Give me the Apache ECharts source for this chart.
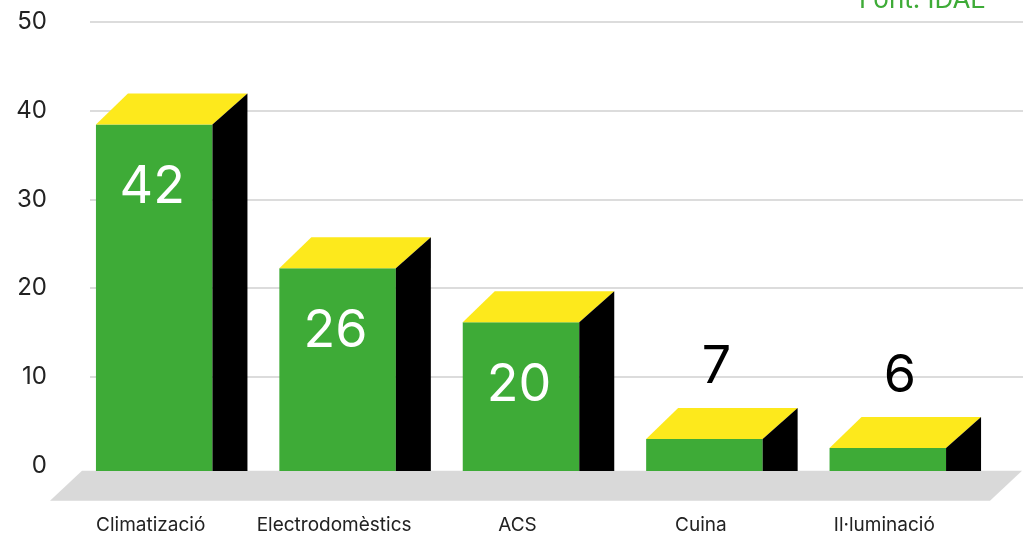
<!DOCTYPE html>
<html>
<head>
<meta charset="utf-8">
<script src="https://cdn.jsdelivr.net/npm/echarts@6/dist/echarts.min.js"></script>
<style>
html,body{margin:0;padding:0;background:#fff;}
#chart{width:1023px;height:536px;}
</style>
</head>
<body>
<div id="chart"></div>
<script>
const categories = ['Climatizació', 'Electrodomèstics', 'ACS', 'Cuina', 'Il·luminació'];
const values = [42, 26, 20, 7, 6];
const yTicks = [0, 10, 20, 30, 40, 50];
const sourceText = 'Font: IDAE';

const GREEN = '#3eab37', YELLOW = '#fde91c', BLACK = '#000000', FLOOR = '#d9d9d9';
const FONT = 'Inter, "Noto Sans", sans-serif';

const chart = echarts.init(document.getElementById('chart'), null, {renderer: 'canvas'});

function renderBar(params, api) {
  const idx = api.value(0);
  const v = api.value(1);
  const top = api.coord([idx, v]);
  const base = api.coord([idx, 0])[1];
  const cx = top[0] + 3.5;
  const w = 116.5;
  const x0 = cx - w / 2, x1 = cx + w / 2;
  const dxL = 32, dxR = 35, dy = 31;
  const backTop = top[1];
  const yf = backTop + dy;
  const inside = (base - yf) > 80;
  return {
    type: 'group',
    children: [
      {type: 'rect', shape: {x: x0, y: yf, width: w, height: base - yf}, style: {fill: GREEN}},
      {type: 'polygon', shape: {points: [[x0, yf], [x1, yf], [x1 + dxR, backTop], [x0 + dxL, backTop]]}, style: {fill: YELLOW}},
      {type: 'polygon', shape: {points: [[x1, yf], [x1 + dxR, backTop], [x1 + dxR, base], [x1, base]]}, style: {fill: BLACK}},
      {type: 'text', x: inside ? cx - 2 : cx + 12, y: inside ? yf + 63 : backTop - 41,
        style: {text: String(v), fill: inside ? '#ffffff' : '#000000', font: '52px ' + FONT, align: 'center', verticalAlign: 'middle'}}
    ]
  };
}

const option = {
  animation: false,
  backgroundColor: '#ffffff',
  grid: [
    {left: 90, right: 0, top: 22, bottom: 70.3},
    {left: 59, right: 47, top: 21.5, bottom: 65}
  ],
  xAxis: [
    {type: 'value', gridIndex: 0, show: false, min: 0, max: 1},
    {type: 'category', gridIndex: 1, data: categories,
      axisLine: {show: false}, axisTick: {show: false}, splitLine: {show: false},
      axisLabel: {interval: 0, margin: 45, color: '#222222', fontSize: 19, fontFamily: FONT}}
  ],
  yAxis: [
    {type: 'value', gridIndex: 0, min: yTicks[0], max: yTicks[yTicks.length - 1], interval: yTicks[1] - yTicks[0],
      axisLine: {show: false}, axisTick: {show: false},
      axisLabel: {margin: 43, color: '#222222', fontSize: 24, fontFamily: FONT},
      splitLine: {show: true, lineStyle: {width: 2, color: ['rgba(0,0,0,0)', '#dcdcdc', '#dcdcdc', '#dcdcdc', '#dcdcdc', '#dcdcdc']}}},
    {type: 'value', gridIndex: 1, min: yTicks[0], max: yTicks[yTicks.length - 1], show: false, splitLine: {show: false}}
  ],
  graphic: [
    {type: 'polygon', z: 0, shape: {points: [[82, 470.7], [1022, 470.7], [990, 500.7], [50, 500.7]]}, style: {fill: FLOOR}},
    {type: 'text', right: 37, top: -13, z: 10, style: {text: sourceText, fill: GREEN, font: '26px ' + FONT}}
  ],
  series: [
    {type: 'custom', xAxisIndex: 1, yAxisIndex: 1, z: 5,
      renderItem: renderBar,
      data: values.map((v, i) => [i, v])}
  ]
};
chart.setOption(option);
</script>
</body>
</html>
